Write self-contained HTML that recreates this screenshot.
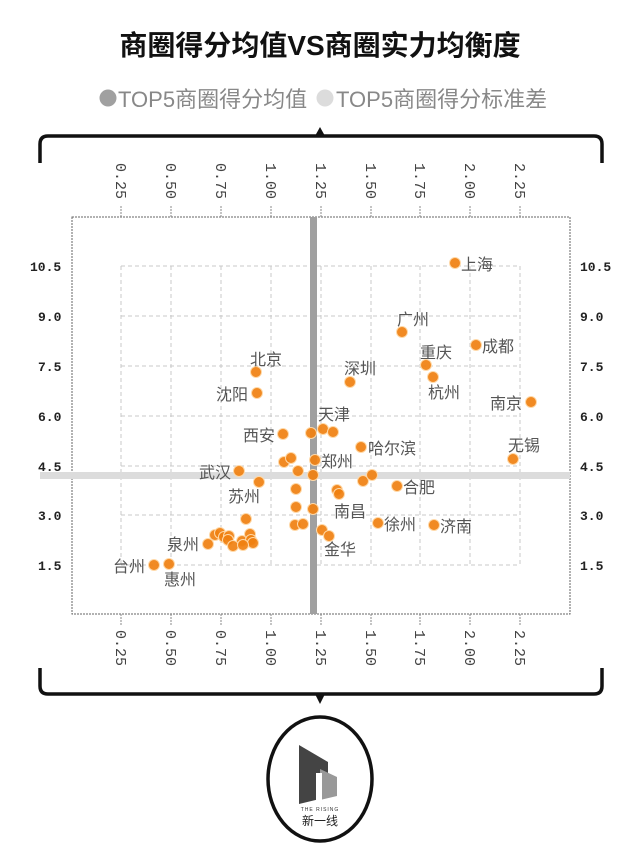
<!DOCTYPE html>
<html><head><meta charset="utf-8"><style>
html,body{margin:0;padding:0;background:#fff;}
svg{display:block;}
.t{font-family:"Liberation Sans","Noto Sans CJK SC",sans-serif;}
.lab{font-family:"Liberation Sans","Noto Sans CJK SC",sans-serif;font-size:16px;fill:#555;}
.yt{font-family:"Liberation Mono","DejaVu Sans Mono",monospace;font-size:13px;font-weight:bold;fill:#222;}
.xt{font-family:"Liberation Mono","DejaVu Sans Mono",monospace;font-size:15px;fill:#444;}
</style></head><body>
<svg width="640" height="843" viewBox="0 0 640 843" xmlns="http://www.w3.org/2000/svg">
<text x="320" y="55" text-anchor="middle" class="t" font-size="28" font-weight="bold" fill="#111">商圈得分均值VS商圈实力均衡度</text>
<circle cx="108" cy="98" r="8.5" fill="#a0a0a0"/>
<text x="118" y="107" class="t" font-size="22" fill="#888">TOP5商圈得分均值</text>
<circle cx="325" cy="98" r="8.5" fill="#dcdcdc"/>
<text x="336" y="107" class="t" font-size="22" fill="#888">TOP5商圈得分标准差</text>
<path d="M40,163 V144 Q40,136 48,136 H594 Q602,136 602,144 V163" fill="none" stroke="#111" stroke-width="3.5"/>
<polygon points="315,136 325,136 320,127" fill="#111"/>
<path d="M40,668 V686 Q40,694 48,694 H594 Q602,694 602,686 V668" fill="none" stroke="#111" stroke-width="3.5"/>
<polygon points="315,694 325,694 320,704" fill="#111"/>
<rect x="72" y="217" width="498" height="397" fill="none" stroke="#666" stroke-width="1" stroke-dasharray="2,1"/>
<g stroke="#c8c8c8" stroke-width="1" stroke-dasharray="4,3">
<line x1="121" y1="266" x2="121" y2="565"/><line x1="171" y1="266" x2="171" y2="565"/><line x1="221" y1="266" x2="221" y2="565"/><line x1="271" y1="266" x2="271" y2="565"/><line x1="321" y1="266" x2="321" y2="565"/><line x1="371" y1="266" x2="371" y2="565"/><line x1="420" y1="266" x2="420" y2="565"/><line x1="470" y1="266" x2="470" y2="565"/><line x1="520" y1="266" x2="520" y2="565"/>
<line x1="121" y1="266" x2="520" y2="266"/><line x1="121" y1="316" x2="520" y2="316"/><line x1="121" y1="366" x2="520" y2="366"/><line x1="121" y1="416" x2="520" y2="416"/><line x1="121" y1="466" x2="520" y2="466"/><line x1="121" y1="515" x2="520" y2="515"/><line x1="121" y1="565" x2="520" y2="565"/>
</g>
<g stroke="#888" stroke-width="1" stroke-dasharray="2,1">
<line x1="121" y1="206" x2="121" y2="217"/><line x1="171" y1="206" x2="171" y2="217"/><line x1="221" y1="206" x2="221" y2="217"/><line x1="271" y1="206" x2="271" y2="217"/><line x1="321" y1="206" x2="321" y2="217"/><line x1="371" y1="206" x2="371" y2="217"/><line x1="420" y1="206" x2="420" y2="217"/><line x1="470" y1="206" x2="470" y2="217"/><line x1="520" y1="206" x2="520" y2="217"/>
<line x1="121" y1="614" x2="121" y2="625"/><line x1="171" y1="614" x2="171" y2="625"/><line x1="221" y1="614" x2="221" y2="625"/><line x1="271" y1="614" x2="271" y2="625"/><line x1="321" y1="614" x2="321" y2="625"/><line x1="371" y1="614" x2="371" y2="625"/><line x1="420" y1="614" x2="420" y2="625"/><line x1="470" y1="614" x2="470" y2="625"/><line x1="520" y1="614" x2="520" y2="625"/>
</g>
<rect x="40" y="472" width="530" height="7" fill="#dcdcdc"/>
<rect x="310" y="217" width="7" height="397" fill="#a0a0a0"/>
<g class="xt">
<text transform="translate(116,163) rotate(90)">0.25</text>
<text transform="translate(166,163) rotate(90)">0.50</text>
<text transform="translate(216,163) rotate(90)">0.75</text>
<text transform="translate(266,163) rotate(90)">1.00</text>
<text transform="translate(316,163) rotate(90)">1.25</text>
<text transform="translate(366,163) rotate(90)">1.50</text>
<text transform="translate(415,163) rotate(90)">1.75</text>
<text transform="translate(465,163) rotate(90)">2.00</text>
<text transform="translate(515,163) rotate(90)">2.25</text>
<text transform="translate(116,630) rotate(90)">0.25</text>
<text transform="translate(166,630) rotate(90)">0.50</text>
<text transform="translate(216,630) rotate(90)">0.75</text>
<text transform="translate(266,630) rotate(90)">1.00</text>
<text transform="translate(316,630) rotate(90)">1.25</text>
<text transform="translate(366,630) rotate(90)">1.50</text>
<text transform="translate(415,630) rotate(90)">1.75</text>
<text transform="translate(465,630) rotate(90)">2.00</text>
<text transform="translate(515,630) rotate(90)">2.25</text>
</g>
<g class="yt">
<text x="30" y="271">10.5</text><text x="38" y="321">9.0</text><text x="38" y="371">7.5</text><text x="38" y="421">6.0</text><text x="38" y="471">4.5</text><text x="38" y="520">3.0</text><text x="38" y="570">1.5</text>
<text x="580" y="271">10.5</text><text x="580" y="321">9.0</text><text x="580" y="371">7.5</text><text x="580" y="421">6.0</text><text x="580" y="471">4.5</text><text x="580" y="520">3.0</text><text x="580" y="570">1.5</text>
</g>
<g fill="#f08010" fill-opacity="0.92" stroke="#ffd9a8" stroke-width="1">
<circle cx="455" cy="263" r="5.5"/><circle cx="402" cy="332" r="5.5"/><circle cx="476" cy="345" r="5.5"/><circle cx="426" cy="365" r="5.5"/><circle cx="433" cy="377" r="5.5"/><circle cx="350" cy="382" r="5.5"/><circle cx="256" cy="372" r="5.5"/><circle cx="257" cy="393" r="5.5"/><circle cx="531" cy="402" r="5.5"/><circle cx="513" cy="459" r="5.5"/><circle cx="361" cy="447" r="5.5"/>
<circle cx="311" cy="433" r="5.5"/><circle cx="323" cy="429" r="5.5"/><circle cx="333" cy="432" r="5.5"/><circle cx="283" cy="434" r="5.5"/><circle cx="315" cy="460" r="5.5"/><circle cx="239" cy="471" r="5.5"/><circle cx="284" cy="462" r="5.5"/><circle cx="291" cy="458" r="5.5"/><circle cx="298" cy="471" r="5.5"/><circle cx="313" cy="475" r="5.5"/><circle cx="363" cy="481" r="5.5"/><circle cx="372" cy="475" r="5.5"/><circle cx="259" cy="482" r="5.5"/><circle cx="397" cy="486" r="5.5"/><circle cx="296" cy="489" r="5.5"/><circle cx="337" cy="490" r="5.5"/><circle cx="339" cy="494" r="5.5"/><circle cx="296" cy="507" r="5.5"/><circle cx="313" cy="509" r="5.5"/><circle cx="378" cy="523" r="5.5"/><circle cx="434" cy="525" r="5.5"/><circle cx="295" cy="525" r="5.5"/><circle cx="303" cy="524" r="5.5"/><circle cx="322" cy="530" r="5.5"/><circle cx="329" cy="536" r="5.5"/><circle cx="246" cy="519" r="5.5"/>
<circle cx="208" cy="544" r="5.5"/><circle cx="215" cy="535" r="5.5"/><circle cx="220" cy="533" r="5.5"/><circle cx="224" cy="537" r="5.5"/><circle cx="229" cy="536" r="5.5"/><circle cx="228" cy="540" r="5.5"/><circle cx="242" cy="541" r="5.5"/><circle cx="250" cy="534" r="5.5"/><circle cx="251" cy="540" r="5.5"/><circle cx="253" cy="543" r="5.5"/><circle cx="233" cy="546" r="5.5"/><circle cx="243" cy="545" r="5.5"/>
<circle cx="154" cy="565" r="5.5"/><circle cx="169" cy="564" r="5.5"/>
</g>
<g class="lab">
<text x="461" y="270">上海</text>
<text x="397" y="325">广州</text>
<text x="482" y="352">成都</text>
<text x="420" y="358">重庆</text>
<text x="428" y="398">杭州</text>
<text x="344" y="374">深圳</text>
<text x="250" y="365">北京</text>
<text x="216" y="400">沈阳</text>
<text x="490" y="409">南京</text>
<text x="508" y="451">无锡</text>
<text x="368" y="454">哈尔滨</text>
<text x="318" y="420">天津</text>
<text x="243" y="441">西安</text>
<text x="321" y="467">郑州</text>
<text x="199" y="478">武汉</text>
<text x="228" y="502">苏州</text>
<text x="403" y="493">合肥</text>
<text x="334" y="517">南昌</text>
<text x="384" y="530">徐州</text>
<text x="440" y="532">济南</text>
<text x="324" y="555">金华</text>
<text x="167" y="550">泉州</text>
<text x="113" y="572">台州</text>
<text x="164" y="585">惠州</text>
</g>
<ellipse cx="320" cy="779" rx="52" ry="62" fill="#fff" stroke="#111" stroke-width="3.5"/>
<polygon points="299,745 328,762 328,797 299,804" fill="#444"/>
<polygon points="320,769 337,777 337,796 320,800" fill="#999"/>
<rect x="316" y="773" width="6" height="27" fill="#fff"/>
<text x="320" y="811" text-anchor="middle" class="t" font-size="5" fill="#333" letter-spacing="1">THE RISING</text>
<text x="320" y="825" text-anchor="middle" class="t" font-size="12" fill="#222">新一线</text>
</svg>
</body></html>
